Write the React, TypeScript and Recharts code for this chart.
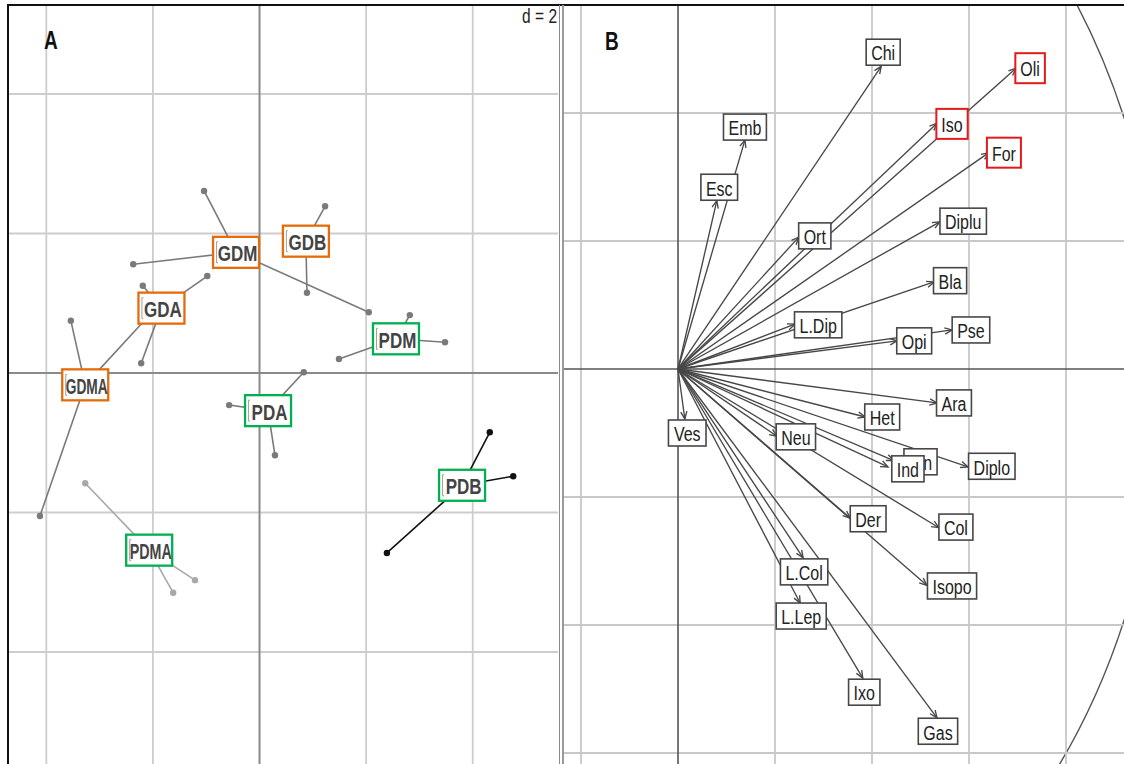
import React from 'react';
import { ScatterChart, Scatter, XAxis, YAxis, ReferenceLine, ReferenceArea } from 'recharts';

// ---------- Panel A: sites around their class centroids ----------
const groupNames = ['GDM', 'GDB', 'GDA', 'GDMA', 'PDM', 'PDA', 'PDB', 'PDMA'];
const groupX = [-0.44, 0.87, -1.84, -3.27, 2.56, 0.16, 3.8, -2.07];
const groupY = [1.73, 1.89, 0.93, -0.17, 0.49, -0.54, -1.61, -2.54];

const siteGroup = [
  'GDM', 'GDM', 'GDM', 'GDB', 'GDB', 'GDA', 'GDA', 'GDA', 'GDMA', 'GDMA', 'GDMA',
  'PDM', 'PDM', 'PDM', 'PDA', 'PDA', 'PDA', 'PDB', 'PDB', 'PDB', 'PDMA', 'PDMA', 'PDMA',
];
const siteX = [
  -1.04, -2.37, 2.05, 1.23, 0.89, -2.19, -0.98, -2.22, -3.54, -4.12, -2.15,
  2.82, 3.48, 1.49, -0.57, 0.29, 0.83, 4.32, 4.76, 2.39, -3.27, -1.21, -1.62,
];
const siteY = [
  2.61, 1.56, 0.87, 2.39, 1.15, 1.25, 1.39, 0.14, 0.75, -2.05, 0.76,
  0.83, 0.44, 0.2, -0.46, -1.18, 0.01, -0.85, -1.48, -2.58, -1.58, -2.97, -3.15,
];

const gridA = [-4, -2, 2, 4];

// ---------- Panel B: correlation circle of taxa ----------
const taxa = [
  'Chi', 'Oli', 'Iso', 'For', 'Emb', 'Esc', 'Ort', 'Diplu', 'Bla', 'L.Dip', 'Opi', 'Pse', 'Ara',
  'Het', 'Ves', 'Neu', 'Sin', 'Ind', 'Diplo', 'Der', 'Col', 'Isopo', 'L.Col', 'L.Lep', 'Ixo', 'Gas',
];
const arrowX = [
  0.419, 0.697, 0.534, 0.641, 0.138, 0.08, 0.249, 0.54, 0.528, 0.241, 0.452, 0.565, 0.534,
  0.386, 0.014, 0.204, 0.445, 0.433, 0.598, 0.355, 0.538, 0.513, 0.258, 0.252, 0.381, 0.534,
];
const arrowY = [
  0.473, 0.47, 0.384, 0.338, 0.358, 0.263, 0.206, 0.23, 0.136, 0.07, 0.044, 0.061, -0.053,
  -0.075, -0.078, -0.105, -0.143, -0.153, -0.153, -0.233, -0.248, -0.338, -0.295, -0.366, -0.483, -0.545,
];
const labelX = [
  0.423, 0.726, 0.565, 0.672, 0.138, 0.085, 0.282, 0.588, 0.561, 0.289, 0.487, 0.604, 0.569,
  0.421, 0.019, 0.243, 0.5, 0.474, 0.647, 0.392, 0.573, 0.565, 0.26, 0.254, 0.384, 0.536,
];
const labelY = [
  0.495, 0.47, 0.383, 0.338, 0.378, 0.284, 0.208, 0.231, 0.138, 0.069, 0.044, 0.061, -0.053,
  -0.075, -0.1, -0.106, -0.145, -0.156, -0.152, -0.234, -0.247, -0.339, -0.317, -0.386, -0.505, -0.566,
];
const highlighted = ['Oli', 'Iso', 'For'];

const gridBX = [-0.2, 0.2, 0.4, 0.6, 0.8];
const gridBY = [0.4, 0.2, -0.2, -0.4, -0.6];

// ---------- styling ----------
const FONT = '"Liberation Sans", Arial, sans-serif';
const STRETCH = 1.3; // figure is taller than wide
const ORANGE = '#e46c0a';
const GREEN = '#00b050';
const groupStroke: Record<string, string> = {
  GDM: '#7a7a7a', GDB: '#7a7a7a', GDA: '#7a7a7a', GDMA: '#7a7a7a',
  PDM: '#7a7a7a', PDA: '#7a7a7a', PDB: '#111111', PDMA: '#a8a8a8',
};

const sites = siteX.map((x, i) => ({ x, y: siteY[i], group: siteGroup[i] }));
const centroids = groupNames.map((name, i) => ({ x: groupX[i], y: groupY[i], name }));
const centroidOf = (g: string) => centroids.find((c) => c.name === g)!;
const taxonLabels = taxa.map((name, i) => ({ x: labelX[i], y: labelY[i], name }));

// rough Arial advance widths (em) for box sizing
const charW = (ch: string) => {
  if (ch === 'I' || ch === '.') return 0.278;
  if ('ilj'.includes(ch)) return 0.222;
  if ('ft'.includes(ch)) return 0.278;
  if (ch === 'r') return 0.333;
  if ('cksvxyz'.includes(ch)) return 0.5;
  if (ch === 'm' || ch === 'M') return 0.833;
  if ('GOQ'.includes(ch)) return 0.778;
  if ('CDHNRU'.includes(ch)) return 0.722;
  if ('ABEKPSVXY'.includes(ch)) return 0.667;
  if ('FTZ'.includes(ch)) return 0.611;
  return 0.556;
};
const textWidth = (s: string, size: number) => s.split('').reduce((a, c) => a + charW(c), 0) * size;

const SiteDot = (p: any) => {
  if (p.cx == null) return null;
  return <circle cx={p.cx} cy={p.cy} r={3.2} fill={groupStroke[p.payload.group]} />;
};

const GroupBox = (p: any) => {
  if (p.cx == null) return null;
  const name: string = p.payload.name;
  const color = name.startsWith('G') ? ORANGE : GREEN;
  const w = 46;
  const h = 31;
  const left = p.cx - w / 2;
  const top = p.cy - h / 2;
  return (
    <g>
      <rect x={left} y={top} width={w} height={h} fill="#fff" stroke={color} strokeWidth={2.3} />
      <path
        d={`M${left + 5},${top + 5}h-1.5v${h - 10}h1.5`}
        fill="none"
        stroke="#a0a0a0"
        strokeWidth={1}
      />
      <text
        transform={`translate(${p.cx + 1.5},${p.cy + 1}) scale(1,${STRETCH})`}
        textAnchor="middle"
        dominantBaseline="central"
        fontFamily={FONT}
        fontWeight="bold"
        fontSize={17}
        fill="#444"
        textLength={name.length > 3 ? 42 : undefined}
        lengthAdjust="spacingAndGlyphs"
      >
        {name}
      </text>
    </g>
  );
};

const TaxonBox = (p: any) => {
  if (p.cx == null) return null;
  const name: string = p.payload.name;
  const red = highlighted.includes(name);
  const w = textWidth(name, 16) + 10;
  const h = red ? 30 : 26;
  return (
    <g>
      <rect
        x={p.cx - w / 2}
        y={p.cy - h / 2}
        width={w}
        height={h}
        fill="#fff"
        stroke={red ? '#e31a1a' : '#474747'}
        strokeWidth={red ? 2 : 1.6}
      />
      <text
        transform={`translate(${p.cx},${p.cy + 1}) scale(1,${STRETCH})`}
        textAnchor="middle"
        dominantBaseline="central"
        fontFamily={FONT}
        fontSize={16}
        fill="#222"
      >
        {name}
      </text>
    </g>
  );
};

// line from origin with an open arrowhead at the far end
const ArrowShape = (p: any) => {
  const { x1, y1, x2, y2 } = p;
  const ang = Math.atan2(y2 - y1, x2 - x1);
  const len = 8;
  const spread = 0.4;
  const ax = x2 + len * Math.cos(ang + Math.PI - spread);
  const ay = y2 + len * Math.sin(ang + Math.PI - spread);
  const bx = x2 + len * Math.cos(ang + Math.PI + spread);
  const by = y2 + len * Math.sin(ang + Math.PI + spread);
  return (
    <g>
      <line x1={x1} y1={y1} x2={x2} y2={y2} stroke="#474747" strokeWidth={1.35} />
      <path d={`M${ax},${ay}L${x2},${y2}L${bx},${by}`} fill="none" stroke="#474747" strokeWidth={1.35} />
    </g>
  );
};

const CircleShape = (p: any) => (
  <ellipse
    cx={p.x + p.width / 2}
    cy={p.y + p.height / 2}
    rx={p.width / 2}
    ry={p.height / 2}
    fill="none"
    stroke="#555"
    strokeWidth={1.4}
  />
);

const PanelA = () => (
  <ScatterChart width={550} height={759} margin={{ top: 0, right: 0, bottom: 0, left: 0 }}>
    <XAxis type="number" dataKey="x" domain={[-4.719, 5.6]} allowDataOverflow hide />
    <YAxis type="number" dataKey="y" domain={[-5.606, 5.276]} allowDataOverflow hide />
    {gridA.map((v) => (
      <ReferenceLine key={`ax${v}`} x={v} stroke="#cdcdcd" strokeWidth={1.8} />
    ))}
    {gridA.map((v) => (
      <ReferenceLine key={`ay${v}`} y={v} stroke="#cdcdcd" strokeWidth={1.8} />
    ))}
    <ReferenceLine x={0} stroke="#8a8a8a" strokeWidth={2} />
    <ReferenceLine y={0} stroke="#8a8a8a" strokeWidth={2} />
    {sites.map((s, i) => {
      const c = centroidOf(s.group);
      return (
        <ReferenceLine
          key={`star${i}`}
          segment={[{ x: c.x, y: c.y }, { x: s.x, y: s.y }]}
          stroke={groupStroke[s.group]}
          strokeWidth={1.6}
        />
      );
    })}
    <Scatter data={sites} shape={SiteDot} isAnimationActive={false} />
    <Scatter data={centroids} shape={GroupBox} isAnimationActive={false} />
  </ScatterChart>
);

const PanelB = () => (
  <ScatterChart width={560} height={759} margin={{ top: 0, right: 0, bottom: 0, left: 0 }}>
    <XAxis type="number" dataKey="x" domain={[-0.2351, 0.9196]} allowDataOverflow hide />
    <YAxis type="number" dataKey="y" domain={[-0.6172, 0.56875]} allowDataOverflow hide />
    {gridBX.map((v) => (
      <ReferenceLine key={`bx${v}`} x={v} stroke="#c8c8c8" strokeWidth={1.8} />
    ))}
    {gridBY.map((v) => (
      <ReferenceLine key={`by${v}`} y={v} stroke="#c8c8c8" strokeWidth={1.8} />
    ))}
    <ReferenceLine x={0} stroke="#555" strokeWidth={1.6} />
    <ReferenceLine y={0} stroke="#555" strokeWidth={1.6} />
    <ReferenceArea x1={-1} x2={1} y1={-1} y2={1} ifOverflow="visible" shape={CircleShape} />
    {taxa.map((t, i) => (
      <ReferenceLine
        key={`arr${t}`}
        segment={[{ x: 0, y: 0 }, { x: arrowX[i], y: arrowY[i] }]}
        shape={ArrowShape}
      />
    ))}
    <Scatter data={taxonLabels} shape={TaxonBox} isAnimationActive={false} />
  </ScatterChart>
);

const letterStyle: React.CSSProperties = {
  position: 'absolute',
  fontFamily: FONT,
  fontWeight: 'bold',
  fontSize: 19,
  lineHeight: 1,
  transform: `scaleY(${STRETCH + 0.05})`,
  transformOrigin: 'top left',
  color: '#111',
};

export default function App() {
  return (
    <div
      style={{
        position: 'absolute',
        left: 0,
        top: 0,
        width: 1124,
        height: 764,
        background: '#fff',
        overflow: 'hidden',
      }}
    >
      <div style={{ position: 'absolute', left: 8, top: 5 }}>
        <PanelA />
      </div>
      <div style={{ position: 'absolute', left: 564, top: 5 }}>
        <PanelB />
      </div>

      {/* panel frame */}
      <div style={{ position: 'absolute', left: 7, top: 4, width: 1117, height: 2, background: '#111' }} />
      <div style={{ position: 'absolute', left: 7, top: 4, width: 2, height: 760, background: '#111' }} />
      <div style={{ position: 'absolute', left: 558.5, top: 5, width: 1.8, height: 759, background: '#8a8a8a' }} />
      <div style={{ position: 'absolute', left: 562, top: 5, width: 1.8, height: 759, background: '#9a9a9a' }} />

      <div style={{ ...letterStyle, left: 44, top: 27 }}>A</div>
      <div style={{ ...letterStyle, left: 605, top: 28 }}>B</div>
      <div
        style={{
          position: 'absolute',
          right: 1124 - 557,
          top: 6,
          fontFamily: FONT,
          fontSize: 15.5,
          lineHeight: 1,
          transform: `scaleY(${STRETCH})`,
          transformOrigin: 'top right',
          color: '#222',
        }}
      >
        d = 2
      </div>
    </div>
  );
}
